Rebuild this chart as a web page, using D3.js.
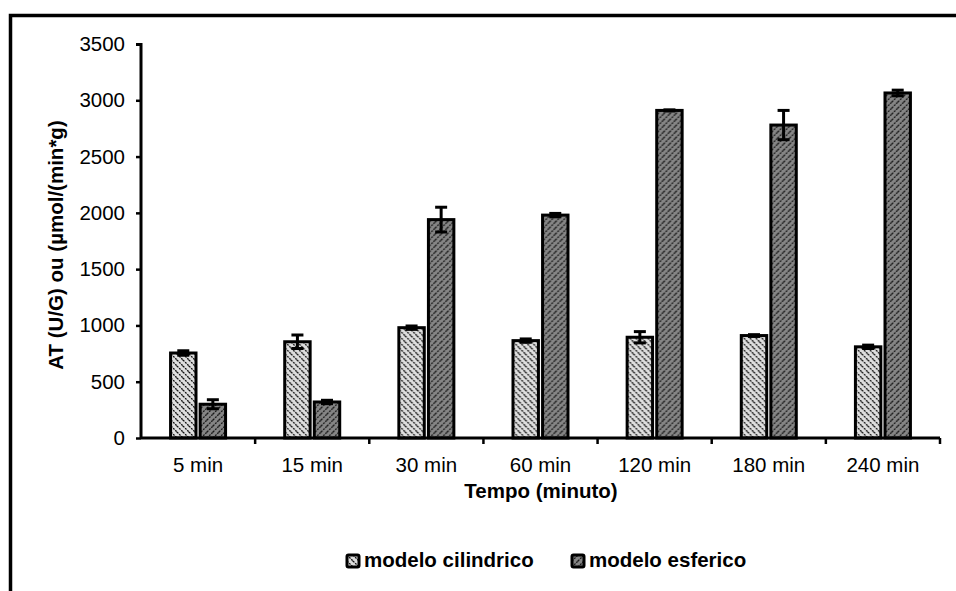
<!DOCTYPE html>
<html>
<head>
<meta charset="utf-8">
<script src="https://cdn.jsdelivr.net/npm/d3@7"></script>
<style>
  body { margin: 0; background: #fff; }
  text { font-family: "Liberation Sans", Arial, sans-serif; }
</style>
</head>
<body>
<svg id="chart" width="956" height="591"></svg>
<script>
// data
var categories = ["5 min", "15 min", "30 min", "60 min", "120 min", "180 min", "240 min"];
var series = ["modelo cilindrico", "modelo esferico"];
var cilindrico = [755, 855, 980, 865, 895, 910, 810];
var cilindricoErr = [20, 60, 15, 15, 50, 8, 15];
var esferico = [300, 320, 1940, 1980, 2910, 2780, 3065];
var esfericoErr = [40, 15, 110, 15, 5, 130, 25];
var yTicks = [0, 500, 1000, 1500, 2000, 2500, 3000, 3500];

var svg = d3.select("#chart");
var fs = 20.5;

// outer frame (cropped on right and bottom)
svg.append("path")
  .attr("d", "M10.5,600 V15.5 H970")
  .attr("fill", "none").attr("stroke", "#000").attr("stroke-width", 3.5);

// patterns
var defs = svg.append("defs");
var p1 = defs.append("pattern").attr("id", "pcil").attr("patternUnits", "userSpaceOnUse")
  .attr("width", 6).attr("height", 6);
p1.append("rect").attr("width", 6).attr("height", 6).attr("fill", "#dedede");
p1.append("path").attr("d", "M0,0 L6,6 M-3,3 L0,6 M3,-3 L9,3")
  .attr("stroke", "#111").attr("stroke-width", 1.3).attr("stroke-dasharray", "2,1");
var p2 = defs.append("pattern").attr("id", "pesf").attr("patternUnits", "userSpaceOnUse")
  .attr("width", 6).attr("height", 6);
p2.append("rect").attr("width", 6).attr("height", 6).attr("fill", "#858585");
p2.append("path").attr("d", "M0,6 L6,0 M-3,3 L3,-3 M3,9 L9,3")
  .attr("stroke", "#1a1a1a").attr("stroke-width", 1.3).attr("stroke-dasharray", "2,1");
var fills = ["url(#pcil)", "url(#pesf)"];

var x = d3.scaleBand().domain(categories).range([141, 940]).paddingInner(0).paddingOuter(0);
var xs = d3.scaleBand().domain(series).range([0, x.bandwidth()]).paddingInner(0.14).paddingOuter(1.0);
var y = d3.scaleLinear().domain([0, 3500]).range([438, 44]);

var rows = categories.map(function(c, i) {
  return [
    {cat: c, s: series[0], v: cilindrico[i], e: cilindricoErr[i], f: fills[0]},
    {cat: c, s: series[1], v: esferico[i], e: esfericoErr[i], f: fills[1]}
  ];
});

var g = svg.append("g");
var grp = g.selectAll("g.cat").data(rows).enter().append("g")
  .attr("transform", function(d) { return "translate(" + x(d[0].cat) + ",0)"; });

grp.selectAll("rect").data(function(d) { return d; }).enter().append("rect")
  .attr("x", function(d) { return xs(d.s); })
  .attr("width", xs.bandwidth())
  .attr("y", function(d) { return y(d.v); })
  .attr("height", function(d) { return y(0) - y(d.v); })
  .attr("fill", function(d) { return d.f; })
  .attr("stroke", "#000").attr("stroke-width", 3);

// error bars
var eb = grp.selectAll("g.err").data(function(d) { return d; }).enter().append("g");
eb.append("line")
  .attr("x1", function(d) { return xs(d.s) + xs.bandwidth() / 2; })
  .attr("x2", function(d) { return xs(d.s) + xs.bandwidth() / 2; })
  .attr("y1", function(d) { return y(d.v - d.e); })
  .attr("y2", function(d) { return y(d.v + d.e); })
  .attr("stroke", "#000").attr("stroke-width", 3);
eb.selectAll("line.cap").data(function(d) { return [d.v - d.e, d.v + d.e].map(function(v) { return {s: d.s, v: v}; }); })
  .enter().append("line")
  .attr("x1", function(d) { return xs(d.s) + xs.bandwidth() / 2 - 6; })
  .attr("x2", function(d) { return xs(d.s) + xs.bandwidth() / 2 + 6; })
  .attr("y1", function(d) { return y(d.v); })
  .attr("y2", function(d) { return y(d.v); })
  .attr("stroke", "#000").attr("stroke-width", 3);

// y axis
var yAxis = svg.append("g").attr("transform", "translate(141,0)")
  .call(d3.axisLeft(y).tickValues(yTicks).tickSize(5).tickPadding(11).tickFormat(d3.format("d")));
yAxis.select(".domain").attr("stroke-width", 3).attr("d", "M-5,44.5H0V438.5");
yAxis.selectAll(".tick line").attr("stroke-width", 2.5);
yAxis.selectAll("text").attr("font-size", fs).attr("fill", "#000")
  .style("font-family", "Liberation Sans, Arial, sans-serif");

// x axis with ticks at category boundaries
var xAxisG = svg.append("g").attr("transform", "translate(0,438)");
xAxisG.append("line").attr("x1", 141).attr("x2", 940).attr("stroke", "#000").attr("stroke-width", 3);
xAxisG.selectAll("line.tk").data(categories).enter().append("line")
  .attr("x1", function(d) { return x(d) + x.bandwidth(); })
  .attr("x2", function(d) { return x(d) + x.bandwidth(); })
  .attr("y1", 0).attr("y2", 6)
  .attr("stroke", "#000").attr("stroke-width", 2.5);
xAxisG.selectAll("text").data(categories).enter().append("text")
  .attr("x", function(d) { return x(d) + x.bandwidth() / 2; })
  .attr("y", 34)
  .attr("text-anchor", "middle").attr("font-size", fs)
  .text(function(d) { return d; });

// axis titles
svg.append("text").attr("x", 541).attr("y", 498).attr("text-anchor", "middle")
  .attr("font-size", fs).attr("font-weight", "bold").text("Tempo (minuto)");
svg.append("text").attr("transform", "translate(63,245) rotate(-90)")
  .attr("text-anchor", "middle").attr("font-size", fs).attr("font-weight", "bold")
  .text("AT (U/G) ou (µmol/(min*g)");

// legend
var legendX = [347, 572];
var leg = svg.selectAll("g.leg").data(series).enter().append("g")
  .attr("transform", function(d, i) { return "translate(" + legendX[i] + ",555)"; });
leg.append("rect").attr("width", 12).attr("height", 12).attr("rx", 1.5)
  .attr("fill", function(d, i) { return fills[i]; })
  .attr("stroke", "#000").attr("stroke-width", 3);
leg.append("text").attr("x", 17).attr("y", 12).attr("font-size", fs).attr("font-weight", "bold")
  .text(function(d) { return d; });
</script>
</body>
</html>
